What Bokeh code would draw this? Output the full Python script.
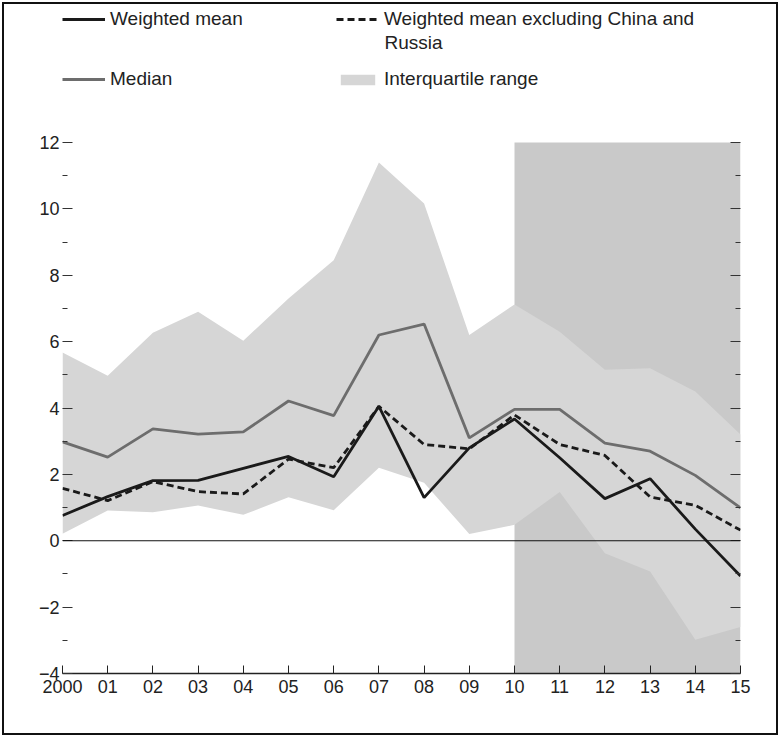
from bokeh.plotting import figure
from bokeh.models import (Legend, LegendItem, Label, BoxAnnotation, Span,
                          FixedTicker, LinearAxis, Range1d)
from bokeh.embed import file_html
from bokeh.resources import INLINE

# ---- data ----
years = list(range(2000, 2016))
year_labels = ["2000", "01", "02", "03", "04", "05", "06", "07", "08", "09",
               "10", "11", "12", "13", "14", "15"]
weighted_mean = [0.76, 1.33, 1.81, 1.82, 2.18, 2.54, 1.93, 4.05, 1.30, 2.80,
                 3.67, 2.50, 1.27, 1.87, 0.35, -1.06]
weighted_mean_ex = [1.58, 1.21, 1.78, 1.48, 1.41, 2.46, 2.20, 4.05, 2.90, 2.77,
                    3.79, 2.90, 2.57, 1.32, 1.07, 0.32]
median = [2.98, 2.52, 3.37, 3.21, 3.28, 4.21, 3.77, 6.20, 6.53, 3.10,
          3.96, 3.96, 2.94, 2.70, 1.97, 0.99]
iqr_low = [0.21, 0.91, 0.86, 1.06, 0.78, 1.31, 0.92, 2.20, 1.75, 0.20,
           0.48, 1.47, -0.38, -0.93, -2.98, -2.60]
iqr_high = [5.67, 4.97, 6.27, 6.90, 6.03, 7.30, 8.45, 11.40, 10.16, 6.20,
            7.12, 6.30, 5.15, 5.20, 4.50, 3.20]
forecast_start, forecast_end = 2010, 2015
y_min, y_max = -4, 12
y_major = [-4, -2, 0, 2, 4, 6, 8, 10, 12]
y_minor = [-3, -1, 1, 3, 5, 7, 9, 11]

FONT = "Liberation Sans"
TXT = "#222222"

# ---- layout in page pixels ----
OFF = 4                       # margin(2) + border(2) around the canvas
W, H = 780 - 2 * OFF, 737 - 2 * OFF
FRAME_LEFT, FRAME_RIGHT = 62, 740
FRAME_TOP, AXIS_TOP, AXIS_BOTTOM = 8, 142, 673
px_per_unit = (AXIS_BOTTOM - AXIS_TOP) / (y_max - y_min)
y_view_top = y_max + (AXIS_TOP - FRAME_TOP) / px_per_unit

p = figure(width=W, height=H, frame_width=FRAME_RIGHT - FRAME_LEFT,
           frame_height=AXIS_BOTTOM - FRAME_TOP,
           x_range=Range1d(2000, 2015), y_range=Range1d(y_min, y_view_top),
           output_backend="svg", toolbar_location=None,
           min_border_left=FRAME_LEFT - OFF,
           min_border_right=W - (FRAME_RIGHT - OFF),
           min_border_top=FRAME_TOP - OFF,
           min_border_bottom=H - (AXIS_BOTTOM - OFF))
p.grid.visible = False
p.outline_line_color = None
p.background_fill_color = "white"
p.styles = {"border": "2px solid #111111", "margin": "2px"}

# forecast shading
p.add_layout(BoxAnnotation(left=forecast_start, right=forecast_end,
                           bottom=y_min, top=y_max,
                           fill_color="#c9c9c9", fill_alpha=1.0,
                           line_color=None, level="underlay"))

r_iqr = p.varea(x=years, y1=iqr_low, y2=iqr_high, fill_color="#d6d6d6")
p.add_layout(Span(location=0, dimension="width", line_color="#111111",
                  line_width=1.2))
r_med = p.line(years, median, line_color="#6d6d6d", line_width=2.8)
r_ex = p.line(years, weighted_mean_ex, line_color="#1a1a1a", line_width=2.8,
              line_dash="7 4")
r_wm = p.line(years, weighted_mean, line_color="#1a1a1a", line_width=2.8)

# axes
ya = p.yaxis[0]
ya.ticker = FixedTicker(ticks=y_major, minor_ticks=y_minor)
ya.axis_line_color = None
ya.major_tick_in = 10
ya.major_tick_out = 0
ya.minor_tick_in = 5
ya.minor_tick_out = 0
ya.major_tick_line_color = "#333333"
ya.minor_tick_line_color = "#333333"
ya.major_label_text_font = FONT
ya.major_label_text_font_size = "18px"
ya.major_label_text_color = TXT
ya.major_label_standoff = 3
ya.major_label_overrides = {v: (str(v).replace("-", "\u2212")) for v in y_major}

ra = LinearAxis(ticker=FixedTicker(ticks=y_major, minor_ticks=y_minor))
ra.axis_line_color = None
ra.major_tick_in = 10
ra.major_tick_out = 0
ra.minor_tick_in = 5
ra.minor_tick_out = 0
ra.major_tick_line_color = "#333333"
ra.minor_tick_line_color = "#333333"
ra.major_label_text_font_size = "0px"
ra.major_label_text_color = None
p.add_layout(ra, "right")

xa = p.xaxis[0]
xa.ticker = FixedTicker(ticks=years)
xa.axis_line_color = "#222222"
xa.axis_line_width = 1.6
xa.major_tick_in = 8
xa.major_tick_out = 0
xa.major_tick_line_color = "#222222"
xa.minor_tick_line_color = None
xa.major_label_text_font = FONT
xa.major_label_text_font_size = "18px"
xa.major_label_text_color = TXT
xa.major_label_standoff = 6
xa.major_label_overrides = {y: lab for y, lab in zip(years, year_labels)}

# legend (four single-item legends placed in the upper part of the frame)
def make_legend(label, rend, loc, gh=16):
    lg = Legend(items=[LegendItem(label=label, renderers=[rend])],
                location=loc, border_line_color=None,
                background_fill_alpha=0, padding=0, margin=0, spacing=0,
                label_text_font=FONT, label_text_font_size="19px",
                label_text_color=TXT, glyph_width=43, glyph_height=gh,
                label_standoff=5, label_height=20)
    p.add_layout(lg, "center")

ROW1, ROW2, ROW1B = 20, 80, 42          # centre lines (page px from top)
COL1, COL2 = 62, 336                    # glyph left edges (page px)
def vy(center):
    return AXIS_BOTTOM - (center + 10)

make_legend("Weighted mean", r_wm, (COL1 - FRAME_LEFT, vy(ROW1)))
make_legend("Weighted mean excluding China and", r_ex, (COL2 - FRAME_LEFT, vy(ROW1)))
make_legend("Median", r_med, (COL1 - FRAME_LEFT, vy(ROW2)))
make_legend("Interquartile range", r_iqr, (COL2 - FRAME_LEFT, vy(ROW2)), gh=13)
p.add_layout(Label(x=COL2 - FRAME_LEFT + 48, y=AXIS_BOTTOM - ROW1B,
                   x_units="screen", y_units="screen",
                   text="Russia", text_font=FONT, text_font_size="19px",
                   text_color=TXT, text_baseline="middle"))

open("out.html", "w").write(file_html(p, INLINE))
